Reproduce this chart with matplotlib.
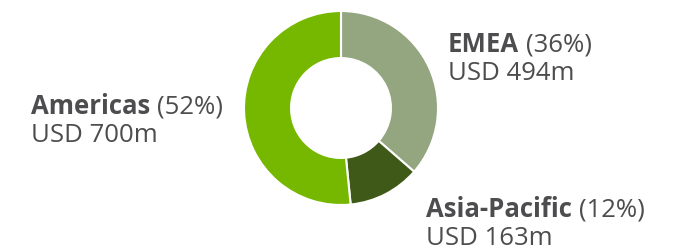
import matplotlib
matplotlib.use("Agg")
import matplotlib.pyplot as plt

regions = ["EMEA", "Asia-Pacific", "Americas"]
revenue = [494, 163, 700]  # USD m
colors = ["#93a680", "#3f5a18", "#76b800"]

plt.rcParams['font.family'] = ['Open Sans', 'DejaVu Sans']
text_color = "#4d4d4f"
fs = 18.5

W, H = 674, 249
fig = plt.figure(figsize=(W / 100, H / 100), dpi=100)

# donut
ax = fig.add_axes([244 / W, (H - 205) / H, 194 / W, 194 / H])
ax.pie(revenue, colors=colors, startangle=90, counterclock=False, radius=1,
       wedgeprops=dict(width=0.485, edgecolor="white", linewidth=1.5))
ax.set_xlim(-1, 1)
ax.set_ylim(-1, 1)
ax.set_aspect("equal")
ax.axis("off")

total = sum(revenue)
# label anchors: (left x, first baseline y) in pixels
label_pos = {"EMEA": (448, 51.5), "Asia-Pacific": (426, 216.5), "Americas": (31, 114)}
line_gap = 28

renderer = fig.canvas.get_renderer()
for name, val in zip(regions, revenue):
    x, y = label_pos[name]
    pct = round(100 * val / total)
    t = fig.text(x / W, 1 - y / H, name, fontsize=fs, fontweight="bold",
                 color=text_color, va="baseline", ha="left")
    x1 = t.get_window_extent(renderer).x1
    fig.text((x1 + 7) / W, 1 - y / H, f"({pct}%)", fontsize=fs,
             color=text_color, va="baseline", ha="left")
    fig.text(x / W, 1 - (y + line_gap) / H, f"USD {val}m", fontsize=fs,
             color=text_color, va="baseline", ha="left")

fig.savefig("out.png", dpi=100)
